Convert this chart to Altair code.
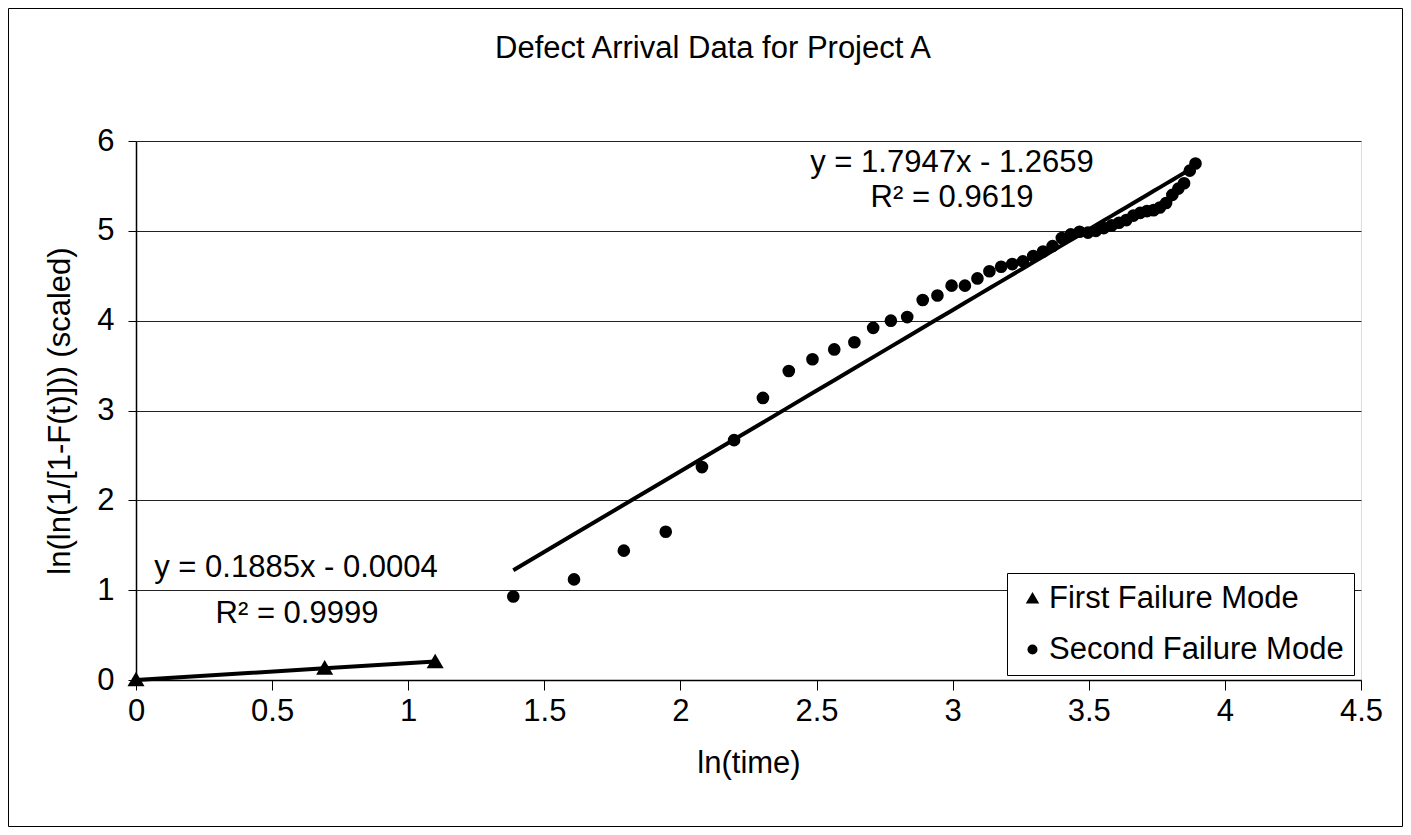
import altair as alt
import pandas as pd

# ---- data ----
first_x = [0.0, 0.693, 1.099]
first_y = [0.0, 0.13, 0.20]

second_x = [1.386, 1.609, 1.792, 1.946, 2.079, 2.197, 2.303, 2.398, 2.485, 2.565,
            2.639, 2.708, 2.773, 2.833, 2.890, 2.944, 2.996, 3.045, 3.091, 3.135,
            3.178, 3.219, 3.258, 3.296, 3.332, 3.367, 3.401, 3.434, 3.466, 3.497,
            3.526, 3.555, 3.584, 3.611, 3.638, 3.664, 3.689, 3.714, 3.738, 3.761,
            3.784, 3.807, 3.829, 3.850, 3.871, 3.892]
second_y = [0.93, 1.12, 1.44, 1.65, 2.37, 2.67, 3.14, 3.44, 3.57, 3.68,
            3.76, 3.92, 4.00, 4.04, 4.23, 4.28, 4.39, 4.39, 4.47, 4.55,
            4.60, 4.63, 4.66, 4.72, 4.77, 4.83, 4.92, 4.96, 4.99, 4.98,
            5.00, 5.03, 5.06, 5.09, 5.12, 5.17, 5.20, 5.22, 5.23, 5.26,
            5.31, 5.40, 5.47, 5.53, 5.67, 5.75]

series_names = ["First Failure Mode", "Second Failure Mode"]
fit_first = (0.1885, -0.0004)
fit_second = (1.7947, -1.2659)
eq_first = ["y = 0.1885x - 0.0004", "R\u00b2 = 0.9999"]
eq_second = ["y = 1.7947x - 1.2659", "R\u00b2 = 0.9619"]
title_text = "Defect Arrival Data for Project A"
x_ticks = [0, 0.5, 1, 1.5, 2, 2.5, 3, 3.5, 4, 4.5]
y_ticks = [0, 1, 2, 3, 4, 5, 6]

df = pd.concat([
    pd.DataFrame({"x": first_x, "y": first_y, "series": series_names[0],
                  "a": fit_first[0], "b": fit_first[1]}),
    pd.DataFrame({"x": second_x, "y": second_y, "series": series_names[1],
                  "a": fit_second[0], "b": fit_second[1]}),
], ignore_index=True)

FONT = "Liberation Sans"
FS = 31
W, H = 1225, 539
TRIANGLE = "M0,-1.3L1.35,1.0L-1.35,1.0Z"

xenc = alt.X("x:Q", scale=alt.Scale(domain=[0, 4.5], nice=False, zero=False),
             axis=alt.Axis(values=x_ticks, format="~g", grid=False, tickSize=10,
                           tickColor="black", domainColor="black", domainWidth=1.5,
                           labelFontSize=FS, labelFont=FONT, labelColor="black",
                           labelPadding=6, labelFlush=False,
                           title="ln(time)", titleFontSize=FS, titleFont=FONT,
                           titleFontWeight="normal", titleColor="black",
                           titlePadding=22))
yenc = alt.Y("y:Q", scale=alt.Scale(domain=[0, 6], nice=False),
             axis=alt.Axis(values=y_ticks, format="d", grid=True, gridColor="#222222",
                           gridWidth=1, tickSize=8, tickColor="black",
                           domainColor="black", domainWidth=1.5,
                           labelFontSize=FS, labelFont=FONT, labelColor="black",
                           labelPadding=14, labelFlush=False,
                           title="ln(ln(1/[1-F(t)])) (scaled)", titleFontSize=FS,
                           titleFont=FONT, titleFontWeight="normal", titleColor="black",
                           titlePadding=20))

base = alt.Chart(df)

trend = base.transform_calculate(
    fit="datum.a * datum.x + datum.b"
).mark_line(color="black", strokeWidth=4).encode(
    x=xenc, y=alt.Y("fit:Q"), detail="series:N"
)

points = base.mark_point(filled=True, color="black", opacity=1, size=160).encode(
    x=xenc, y=yenc,
    shape=alt.Shape("series:N",
                    scale=alt.Scale(domain=series_names, range=[TRIANGLE, "circle"]),
                    legend=alt.Legend(title=None, orient="none", legendX=871, legendY=432,
                                      fillColor="white", strokeColor="black",
                                      padding=10, labelFont=FONT, labelFontSize=FS,
                                      labelColor="black", labelLimit=1000, symbolSize=100,
                                      symbolFillColor="black", symbolStrokeColor="black",
                                      rowPadding=19, labelOffset=1, symbolOffset=0)),
)

def txt(s, px, py):
    return alt.Chart(pd.DataFrame({"t": [s]})).mark_text(
        font=FONT, fontSize=FS, color="black", align="center", baseline="alphabetic"
    ).encode(x=alt.value(px), y=alt.value(py), text="t:N")

labels = (txt(title_text, 577, -83)
          + txt(eq_first[0], 160, 436) + txt(eq_first[1], 161, 482)
          + txt(eq_second[0], 816, 31) + txt(eq_second[1], 816, 66))

frame = alt.Chart(pd.DataFrame({"k": [0]})).mark_rect(
    fill=None, stroke="black", strokeWidth=1
).encode(x=alt.value(-127.5), x2=alt.value(1266.5), y=alt.value(-132.5), y2=alt.value(685.5))

chart = alt.layer(frame, trend, points, labels).properties(
    width=W, height=H,
    autosize=alt.AutoSizeParams(type="none"),
    padding={"left": 128, "top": 133, "right": 42, "bottom": 147},
).configure_view(stroke="#969696", strokeWidth=2).configure(background="white")

chart.save("out.html", embed_options={"renderer": "svg", "actions": False})
